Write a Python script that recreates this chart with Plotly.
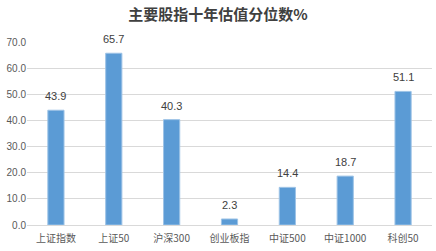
import plotly.graph_objects as go

categories = ["上证指数", "上证50", "沪深300", "创业板指", "中证500", "中证1000", "科创50"]
values = [43.9, 65.7, 40.3, 2.3, 14.4, 18.7, 51.1]
yticks = [0, 10, 20, 30, 40, 50, 60, 70]

fig = go.Figure(go.Bar(
    x=categories, y=values,
    marker=dict(color="#5B9BD5", line=dict(color="#9DC3E6", width=1)),
    width=0.28,
))
for c, v in zip(categories, values):
    fig.add_annotation(x=c, y=v, text=f"{v:.1f}", showarrow=False, yanchor="bottom", yshift=6,
                       font=dict(family="Liberation Sans, Arial", size=11, color="#404040"))
fig.update_layout(
    width=436, height=251,
    margin=dict(l=27, r=4, t=42, b=26),
    paper_bgcolor="white", plot_bgcolor="white",
    title=dict(text="<b>主要股指十年估值分位数%</b>", x=0.5, xanchor="center", y=0.94, yanchor="middle",
               font=dict(family="Noto Sans CJK SC", size=15, color="#404040")),
    showlegend=False,
    bargap=0.72,
)
fig.update_yaxes(range=[0, 70], tickvals=yticks, ticktext=[f"{v:.1f}" for v in yticks],
                 showgrid=True, gridcolor="#D9D9D9", gridwidth=1, zeroline=False,
                 tickfont=dict(family="Liberation Sans, Arial", size=10, color="#595959"),
                 ticks="", showline=False)
fig.update_xaxes(showline=True, linecolor="#D9D9D9", ticks="outside", ticklen=4, tickcolor="rgba(0,0,0,0)",
                 tickfont=dict(family="Noto Sans CJK SC", size=10, color="#595959"))
fig.write_html("out.html")
